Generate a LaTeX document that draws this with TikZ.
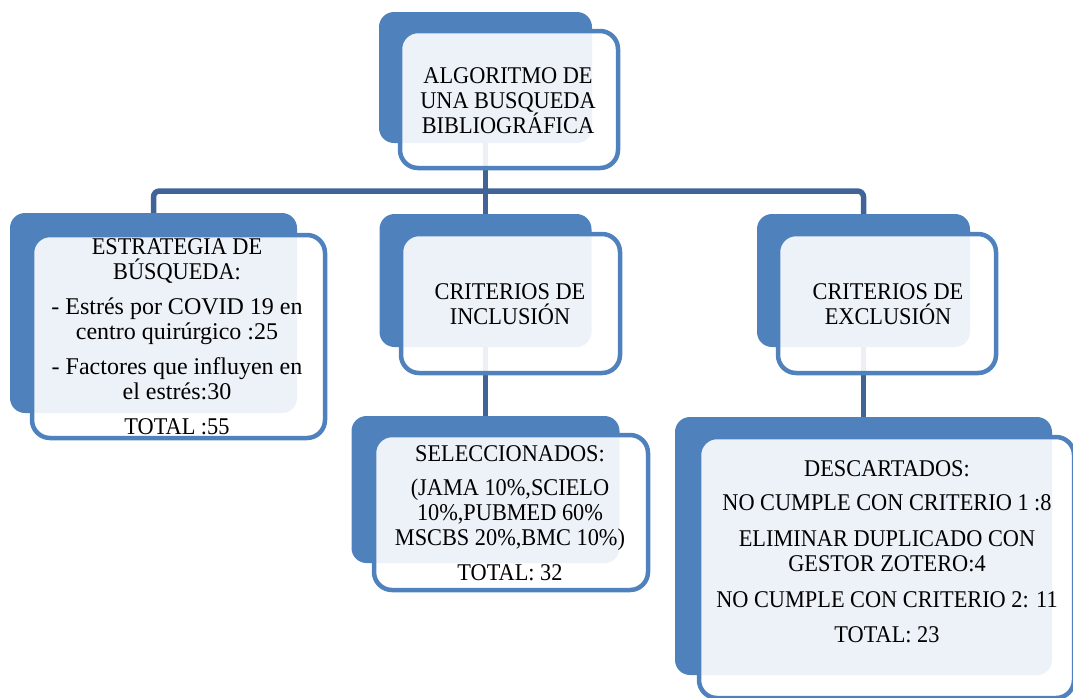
\documentclass[tikz,border=0pt]{standalone}
\usepackage{fontspec}
\setmainfont{Liberation Serif}[FakeStretch=0.93]
\newfontfamily\widefont{Liberation Serif}
\definecolor{boxblue}{RGB}{79,129,189}
\definecolor{linkblue}{RGB}{64,100,152}

\begin{document}
\begin{tikzpicture}[x=1pt,y=-1pt]
        \tikzstyle{back}=[fill=boxblue, rounded corners=15pt, inner sep=0pt]
        \tikzstyle{front}=[draw=boxblue, line width=4.5pt, fill=white, fill opacity=0.9, rounded corners=18pt, inner sep=0pt]
        \tikzstyle{txt}=[align=center, anchor=north, inner sep=0pt, font=\fontsize{24}{25}\selectfont]
        \tikzstyle{link}=[draw=linkblue, line width=5.5pt]
        \useasboundingbox (0,0) rectangle (1073,697);
        \clip (0,0) rectangle (1073,697);
        % back boxes
        \node[back, minimum width=213pt, minimum height=131pt] (algback) at (485.5,77.5) {};
        \node[back, minimum width=287pt, minimum height=200pt] (estback) at (153.5,313) {};
        \node[back, minimum width=212pt, minimum height=133pt] (incback) at (485.5,280.5) {};
        \node[back, minimum width=213pt, minimum height=133pt] (excback) at (863.5,280.5) {};
        \node[back, minimum width=268pt, minimum height=147pt] (selback) at (485.5,489.5) {};
        \node[back, minimum width=377pt, minimum height=258pt] (desback) at (863.5,546) {};
        % connectors
        \coordinate (hub) at (485.5,191);
        \draw[link] (algback.south) -- (hub);
        \draw[link, rounded corners=6pt] (hub) -| (estback.north);
        \draw[link] (hub) -- (incback.north);
        \draw[link, rounded corners=6pt] (hub) -| (excback.north);
        \draw[link] (incback.south) -- (selback.north);
        \draw[link] (excback.south) -- (desback.north);
        % front boxes
        \node[front, minimum width=218pt, minimum height=137pt] (algfront) at (509,99.5) {};
        \node[front, minimum width=293pt, minimum height=203pt] (estfront) at (178.5,336.5) {};
        \node[front, minimum width=219pt, minimum height=139pt] (incfront) at (510.5,303.5) {};
        \node[front, minimum width=218pt, minimum height=139pt] (excfront) at (887,303.5) {};
        \node[front, minimum width=274pt, minimum height=155pt] (selfront) at (511,512.5) {};
        \node[front, minimum width=375pt, minimum height=261pt] (desfront) at (886.5,567.5) {};
        % texts
        \node[txt] (algtxt) at (508,67) {ALGORITMO DE\\UNA BUSQUEDA\\BIBLIOGRÁFICA};
        \node[txt] (esttxt) at (177,238) {ESTRATEGIA DE\\BÚSQUEDA:\\[10pt]{\widefont - Estrés por COVID 19 en}\\{\widefont centro quirúrgico :25}\\[10pt]{\widefont - Factores que influyen en}\\{\widefont el estrés:30}\\[10pt]TOTAL :55};
        \node[txt] (inctxt) at (510,283) {CRITERIOS DE\\INCLUSIÓN};
        \node[txt] (exctxt) at (888,283) {CRITERIOS DE\\EXCLUSIÓN};
        \node[txt] (seltxt) at (510,445) {SELECCIONADOS:\\[9pt](JAMA 10\%,SCIELO\\10\%,PUBMED 60\%\\MSCBS 20\%,BMC 10\%)\\[10pt]TOTAL: 32};
        \node[txt] (destxt) at (887,460) {DESCARTADOS:\\[9pt]NO CUMPLE CON CRITERIO 1 :8\\[11pt]ELIMINAR DUPLICADO CON\\GESTOR ZOTERO:4\\[11pt]NO CUMPLE CON CRITERIO 2: 11\\[10pt]TOTAL: 23};
    \end{tikzpicture}
\end{document}
